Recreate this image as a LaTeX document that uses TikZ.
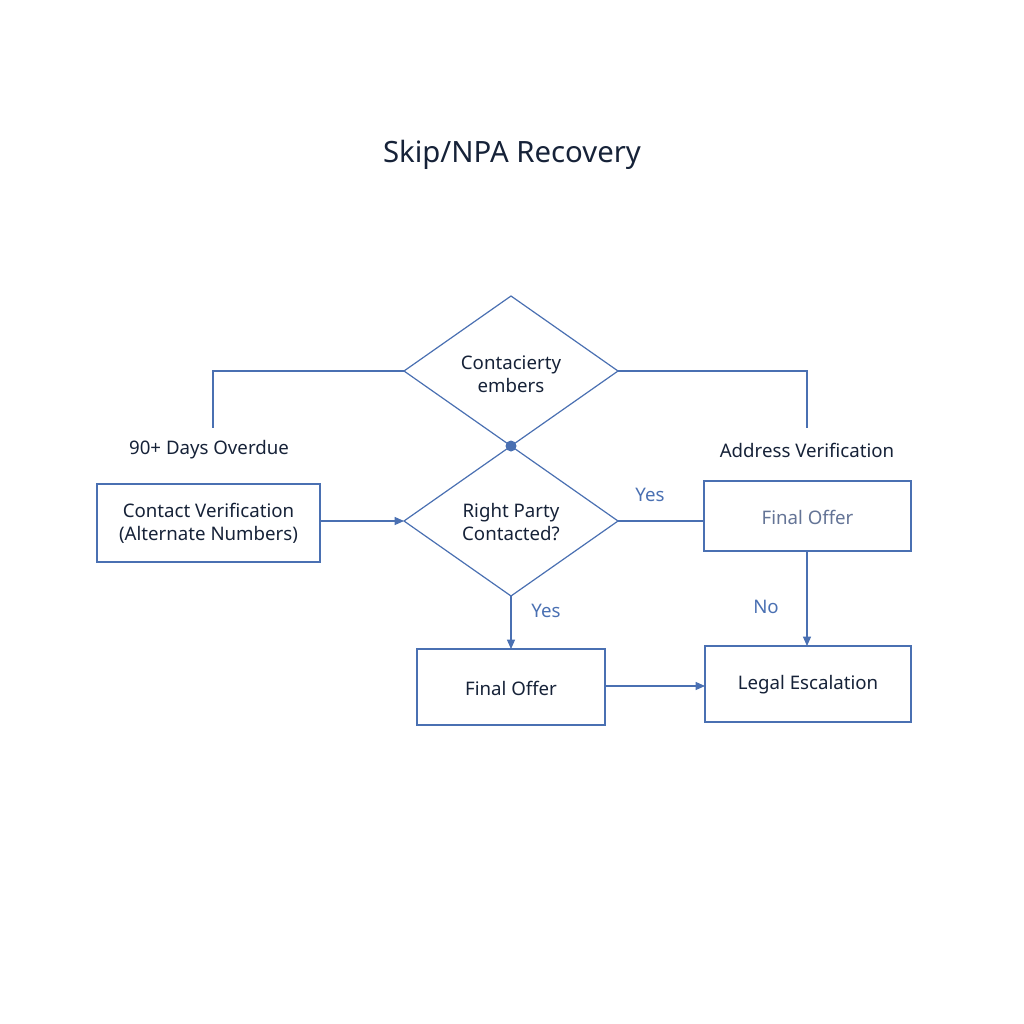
\documentclass[tikz,border=0pt]{standalone}
\usepackage{fontspec}
\setmainfont{Noto Sans}
\usetikzlibrary{arrows.meta}
\definecolor{flowline}{RGB}{74,112,178}
\definecolor{titlenavy}{RGB}{22,34,56}
\definecolor{greytext}{RGB}{100,116,150}
\tikzset{
  boxshape/.style={draw=flowline, line width=0.9pt, fill=white},
  flowarrow/.style={draw=flowline, line width=0.9pt, -{Triangle[length=7pt,width=6pt]}},
  flowplain/.style={draw=flowline, line width=0.9pt},
  txt/.style={inner sep=0.75pt, align=center, font=\fontsize{14}{17}\selectfont, text=titlenavy},
  branchlabel/.style={inner sep=0.75pt, font=\fontsize{14}{17}\selectfont, text=flowline}
}
\begin{document}
\begin{tikzpicture}[x=0.75pt,y=0.75pt,yscale=-1,xscale=1]
\useasboundingbox (0,0) rectangle (1024,1024);

% Title
\node (title) [inner sep=0pt, font=\fontsize{22}{26}\selectfont, text=titlenavy] at (512,155) {Skip/NPA Recovery};

% Diamonds
\draw [boxshape] (511,296) -- (618,371) -- (511,446) -- (404,371) -- cycle ;
\node (topdia) [txt] at (511,374) {Contacierty\\embers};
\draw [boxshape] (511,446) -- (618,521) -- (511,596) -- (404,521) -- cycle ;
\node (rpc) [txt] at (511,522) {Right Party\\Contacted?};
\coordinate (topL) at (404,371);
\coordinate (topR) at (618,371);
\coordinate (rpcL) at (404,521);
\coordinate (rpcR) at (618,521);
\coordinate (rpcB) at (511,596);
\fill [flowline] (511,446) circle (5.5);

% Branches from the top diamond
\coordinate (leftEnd) at (213,428);
\coordinate (rightEnd) at (807,428);
\draw [flowplain] (topL) -- (213,371) -- (leftEnd);
\draw [flowplain] (topR) -- (807,371) -- (rightEnd);
\node (overdue) [txt] at (209,450) {90+ Days Overdue};
\node (address) [txt] at (807,450) {Address Verification};

% Boxes
\draw [boxshape] (97,484) rectangle (320,562);
\node (contact) [txt] at (208.5,523) {Contact Verification\\(Alternate Numbers)};
\draw [boxshape] (704,481) rectangle (911,551);
\node (offerR) [txt, text=greytext] at (807.5,517) {Final Offer};
\draw [boxshape] (417,649) rectangle (605,725);
\node (offer) [txt] at (511,688) {Final Offer};
\draw [boxshape] (705,646) rectangle (911,722);
\node (legal) [txt] at (808,685) {Legal Escalation};

% Connectors
\draw [flowarrow] (320,521) -- (rpcL);
\draw [flowplain] (rpcR) -- (704,521);
\draw [flowarrow] (rpcB) -- (511,649);
\draw [flowarrow] (807,551) -- (807,646);
\draw [flowarrow] (605,686) -- (705,686);

% Labels
\node (yesR) [branchlabel] at (650,495) {Yes};
\node (yesB) [branchlabel] at (546,611) {Yes};
\node (noR) [branchlabel] at (766,607) {No};

\end{tikzpicture}
\end{document}
